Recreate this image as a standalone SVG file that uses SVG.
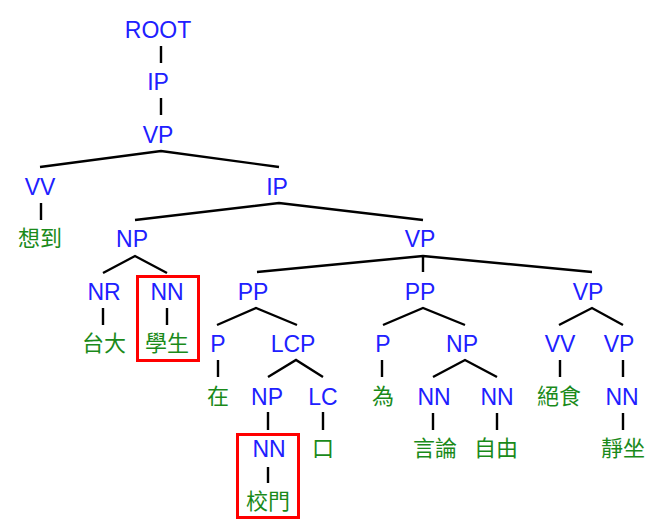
<svg xmlns="http://www.w3.org/2000/svg" width="665" height="526" viewBox="0 0 665 526">
<style>
.c{font-family:"Liberation Sans",Arial,sans-serif;font-size:23px;fill:#2020ff;text-anchor:middle}
.w{font-family:"Noto Sans CJK TC","Noto Sans CJK SC",sans-serif;font-size:22px;fill:#1a8a1a;text-anchor:middle}
.e{stroke:#000;stroke-width:2.4;fill:none}
.hl{fill:none;stroke:#ff0000;stroke-width:3}
</style>
<rect width="665" height="526" fill="#fff"/>
<g id="connectors" class="e">
<path d="M161,46V63M161,98V115"/>
<path d="M40,167L161,151L279,167"/>
<path d="M41,203V220"/>
<path d="M135,220L279,203L423,220"/>
<path d="M103,273L135,256L167,273"/>
<path d="M257,272L423,256L592,272M423,256V272"/>
<path d="M103,308V325M167,308V325"/>
<path d="M217,325L256,308L297,325"/>
<path d="M383,325L423,308L465,325"/>
<path d="M559,325L592,308L623,325"/>
<path d="M218,360V377"/>
<path d="M268,377L296,360L323,377"/>
<path d="M382,360V377"/>
<path d="M433,377L465,360L497,377"/>
<path d="M560,360V377M623,360V377"/>
<path d="M268,412V430M323,412V430"/>
<path d="M433,413V430M497,413V430M623,413V430"/>
<path d="M268,467V483"/>
</g>
<g id="n_root"><text class="c" x="158" y="38">ROOT</text></g>
<g id="n_ip1"><text class="c" x="158" y="90">IP</text></g>
<g id="n_vp1"><text class="c" x="158" y="143">VP</text></g>
<g id="n_vv1"><text class="c" x="40" y="195">VV</text></g>
<g id="n_ip2"><text class="c" x="277" y="195">IP</text></g>
<g id="w_xiangdao"><text class="w" x="40" y="246">想到</text></g>
<g id="n_np1"><text class="c" x="132" y="247">NP</text></g>
<g id="n_vp2"><text class="c" x="420" y="247">VP</text></g>
<g id="n_nr"><text class="c" x="104" y="300">NR</text></g>
<g id="n_nn1"><text class="c" x="167" y="300">NN</text></g>
<g id="n_pp1"><text class="c" x="253" y="300">PP</text></g>
<g id="n_pp2"><text class="c" x="420" y="300">PP</text></g>
<g id="n_vp3"><text class="c" x="588" y="300">VP</text></g>
<g id="w_taida"><text class="w" x="104" y="351">台大</text></g>
<g id="w_xuesheng"><text class="w" x="167" y="351">學生</text></g>
<g id="n_p1"><text class="c" x="218" y="352">P</text></g>
<g id="n_lcp"><text class="c" x="293" y="352">LCP</text></g>
<g id="n_p2"><text class="c" x="383" y="352">P</text></g>
<g id="n_np2"><text class="c" x="462" y="352">NP</text></g>
<g id="n_vv2"><text class="c" x="560" y="352">VV</text></g>
<g id="n_vp4"><text class="c" x="619" y="352">VP</text></g>
<g id="w_zai"><text class="w" x="218" y="404">在</text></g>
<g id="n_np3"><text class="c" x="267" y="405">NP</text></g>
<g id="n_lc"><text class="c" x="323" y="405">LC</text></g>
<g id="w_wei"><text class="w" x="383" y="404">為</text></g>
<g id="n_nn2"><text class="c" x="434" y="405">NN</text></g>
<g id="n_nn3"><text class="c" x="497" y="405">NN</text></g>
<g id="w_jueshi"><text class="w" x="559" y="404">絕食</text></g>
<g id="n_nn4"><text class="c" x="622" y="405">NN</text></g>
<g id="n_nn5"><text class="c" x="269" y="457">NN</text></g>
<g id="w_kou"><text class="w" x="323" y="456">口</text></g>
<g id="w_yanlun"><text class="w" x="435" y="456">言論</text></g>
<g id="w_ziyou"><text class="w" x="496" y="456">自由</text></g>
<g id="w_jingzuo"><text class="w" x="623" y="456">靜坐</text></g>
<g id="w_xiaomen"><text class="w" x="268" y="509">校門</text></g>
<g id="highlights">
<rect class="hl" x="137.5" y="276.5" width="61" height="84"/>
<rect class="hl" x="237.5" y="434.5" width="61" height="83"/>
</g>
</svg>
